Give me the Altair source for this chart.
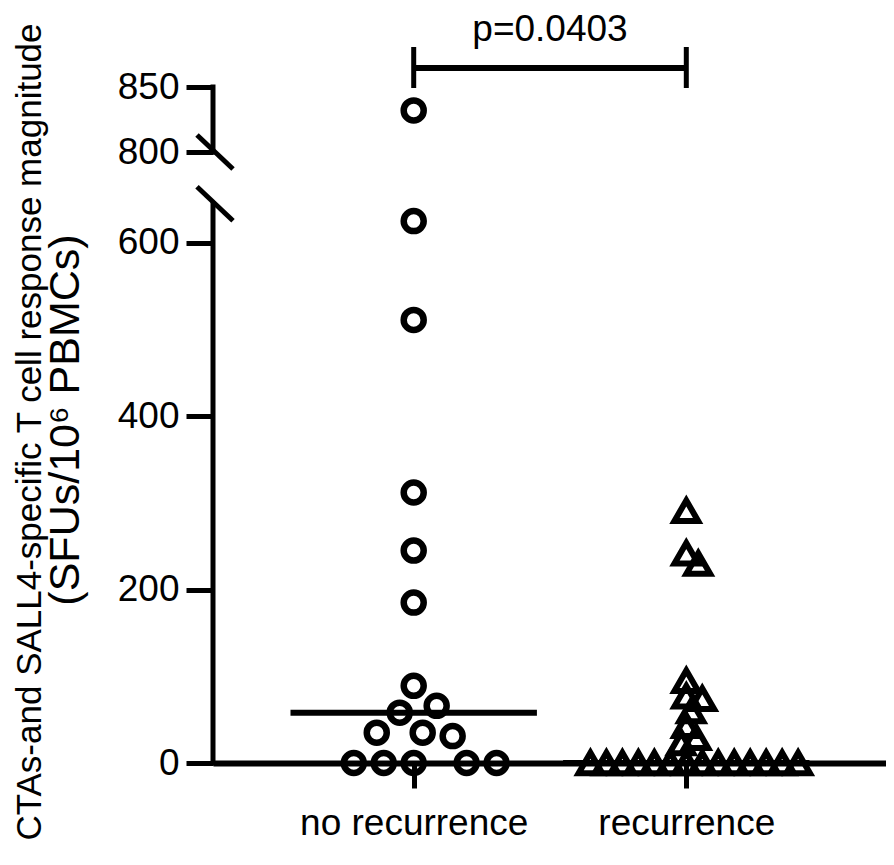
import altair as alt
import numpy as np
import pandas as pd

# ---------------- data ----------------
groups = ["no recurrence", "recurrence"]
no_recurrence = [832, 625, 511, 312, 245, 185, 89, 66, 58, 35, 35, 31, 0, 0, 0, 0, 0]
recurrence = [291, 242, 230, 95, 77, 74, 60, 43, 29, 23,
              0, 0, 0, 0, 0, 0, 0, 0, 0, 0, 0, 0, 0, 0]
y_tick_values = [0, 200, 400, 600, 800, 850]
p_label = "p=0.0403"
y_title_line1 = "CTAs-and SALL4-specific T cell response magnitude"
y_title_line2 = "(SFUs/10\u2076 PBMCs)"

# ---------------- broken y axis ----------------
LOW_MAX = 645          # lower segment ends here
HIGH_MIN, HIGH_MAX = 800, 850
HIGH_BASE = 704.7      # axis position of 800 (in lower-segment units)
HIGH_SCALE = 1.5       # upper segment is stretched


def to_axis(v):
    return v if v <= LOW_MAX else HIGH_BASE + (v - HIGH_MIN) * HIGH_SCALE


Y_TOP = to_axis(HIGH_MAX)

TOTAL_W, TOTAL_H = 878, 849
EST_PLOT_W, EST_PLOT_H = 674, 675
PX_PER_X = 273.0
PX_PER_Y = EST_PLOT_H / Y_TOP
X_LEFT = 1 - 201 / PX_PER_X
X_RIGHT = X_LEFT + EST_PLOT_W / PX_PER_X
MEDIAN_HALF = 0.452
FONT = "Liberation Sans"


def swarm(values, min_dist):
    """simple beeswarm: offsets (in x units) so that markers do not overlap"""
    ys = [to_axis(v) * PX_PER_Y for v in values]
    order = sorted(range(len(values)), key=lambda i: -values[i])
    placed, offsets = [], [0.0] * len(values)
    for i in order:
        k = 0
        chosen = None
        while chosen is None:
            cands = [0.0] if k == 0 else [float(k), float(-k)]
            for c in cands:
                if all((c - px) ** 2 + (ys[i] - py) ** 2 >= min_dist ** 2 - 1e-9
                       for px, py in placed):
                    chosen = c
                    break
            k += 1
        offsets[i] = chosen
        placed.append((chosen, ys[i]))
    return [o / PX_PER_X for o in offsets]


rows = []
for gi, (g, vals, dist) in enumerate(zip(groups, [no_recurrence, recurrence], [30, 15.5])):
    offs = swarm(vals, dist)
    for v, o in zip(vals, offs):
        rows.append({"group": g, "value": v, "yd": to_axis(v), "x": gi + 1 + o})
points_df = pd.DataFrame(rows)

med_df = pd.DataFrame([
    {"group": g, "x1": gi + 1 - MEDIAN_HALF, "x2": gi + 1 + MEDIAN_HALF,
     "yd": to_axis(float(np.median(vals)))}
    for gi, (g, vals) in enumerate(zip(groups, [no_recurrence, recurrence]))
])

seg_df = pd.DataFrame([
    {"yd": to_axis(0), "yd2": to_axis(LOW_MAX)},
    {"yd": to_axis(HIGH_MIN), "yd2": to_axis(HIGH_MAX)},
])
brk_df = pd.DataFrame([{"yd": to_axis(LOW_MAX)}, {"yd": to_axis(HIGH_MIN)}])
sig_df = pd.DataFrame([{"x": 1, "x2": 2}])
sig_end_df = pd.DataFrame([{"x": 1}, {"x": 2}])
p_df = pd.DataFrame([{"x": float(np.mean([1, 2])), "label": p_label}])
t1_df = pd.DataFrame([{"label": y_title_line1}])
t2_df = pd.DataFrame([{"label": y_title_line2}])

xscale = alt.Scale(domain=[X_LEFT, X_RIGHT], nice=False, zero=False)
yscale = alt.Scale(domain=[0, Y_TOP], nice=False, zero=False)

x_axis = alt.Axis(
    values=[1, 2],
    labelExpr=f"datum.value == 1 ? '{groups[0]}' : '{groups[1]}'",
    title=None, grid=False, domainWidth=6, domainColor="black",
    tickColor="black", tickWidth=5, tickSize=25,
    labelFontSize=37, labelFont=FONT, labelColor="black", labelPadding=17,
    labelFlush=False, labelOverlap=False, labelLimit=0,
)
y_axis = alt.Axis(
    values=[to_axis(t) for t in y_tick_values],
    labelExpr=(f"datum.value > {LOW_MAX} ? round({HIGH_MIN} + (datum.value - {HIGH_BASE}) / {HIGH_SCALE})"
               f" : round(datum.value)"),
    title=None, grid=False, domain=False,
    tickColor="black", tickWidth=5, tickSize=27,
    labelFontSize=37, labelFont=FONT, labelColor="black", labelPadding=7,
    labelFlush=False, labelOverlap=False, labelLimit=0,
)

points = alt.Chart(points_df).mark_point(filled=False, opacity=1, color="black").encode(
    x=alt.X("x:Q", scale=xscale, axis=x_axis),
    y=alt.Y("yd:Q", scale=yscale, axis=y_axis),
    shape=alt.Shape("group:N", scale=alt.Scale(domain=groups, range=["circle", "triangle-up"]), legend=None),
    size=alt.Size("group:N", scale=alt.Scale(domain=groups, range=[400, 560]), legend=None),
    strokeWidth=alt.StrokeWidth("group:N", scale=alt.Scale(domain=groups, range=[6.5, 6]), legend=None),
)

medians = alt.Chart(med_df).mark_rule(color="black", strokeWidth=6).encode(
    x=alt.X("x1:Q", scale=xscale), x2="x2:Q", y=alt.Y("yd:Q", scale=yscale)
)

y_segments = alt.Chart(seg_df).mark_rule(color="black", strokeWidth=5, strokeCap="square").encode(
    x=alt.value(0), y=alt.Y("yd:Q", scale=yscale), y2="yd2:Q"
)

breaks = alt.Chart(brk_df).mark_rule(color="black", strokeWidth=5, yOffset=-17, y2Offset=17).encode(
    x=alt.value(-16), x2=alt.value(20), y=alt.Y("yd:Q", scale=yscale), y2="yd:Q"
)

sig_line = alt.Chart(sig_df).mark_rule(color="black", strokeWidth=6).encode(
    x=alt.X("x:Q", scale=xscale), x2="x2:Q", y=alt.value(-19)
)
sig_ends = alt.Chart(sig_end_df).mark_rule(color="black", strokeWidth=5).encode(
    x=alt.X("x:Q", scale=xscale), y=alt.value(-40), y2=alt.value(1)
)
p_text = alt.Chart(p_df).mark_text(fontSize=37, font=FONT, baseline="alphabetic", align="center", color="black").encode(
    x=alt.X("x:Q", scale=xscale), y=alt.value(-46), text="label:N"
)

title1 = alt.Chart(t1_df).mark_text(fontSize=35, font=FONT, angle=270, align="center",
                                    baseline="alphabetic", color="black").encode(
    x=alt.value(-172), y=alt.value(345), text="label:N"
)
title2 = alt.Chart(t2_df).mark_text(fontSize=43, font=FONT, angle=270, align="center",
                                    baseline="alphabetic", color="black").encode(
    x=alt.value(-134), y=alt.value(333), text="label:N"
)

chart = alt.layer(
    medians, y_segments, breaks, sig_line, sig_ends, p_text, title1, title2, points
).properties(
    width=TOTAL_W, height=TOTAL_H,
    autosize=alt.AutoSizeParams(type="fit", contains="padding"),
    padding={"left": 4, "top": 3, "right": 0, "bottom": 16},
    background="white",
).configure_view(stroke=None)

chart.save("out.html", embed_options={"renderer": "svg", "actions": False})
